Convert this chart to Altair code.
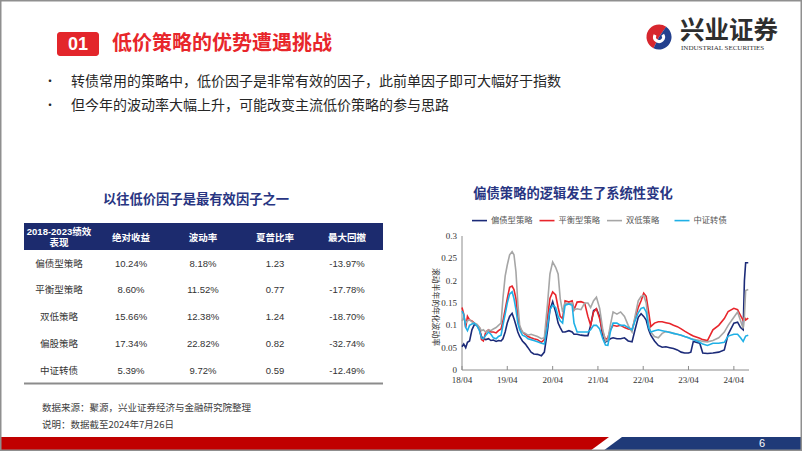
import altair as alt
import pandas as pd

W, H = 802, 451

# ---------------- data: line chart (rolling half-year annualised volatility)
dates = [
    "2018-04-01", "2018-04-15", "2018-05-01", "2018-05-15", "2018-06-01", "2018-06-20", "2018-07-10", "2018-08-01", "2018-08-20", "2018-09-05",
    "2018-09-20", "2018-10-10", "2018-11-01", "2018-11-20", "2018-12-10", "2019-01-01", "2019-01-20", "2019-02-10", "2019-02-25", "2019-03-15",
    "2019-04-01", "2019-04-20", "2019-05-10", "2019-05-25", "2019-06-10", "2019-06-25", "2019-07-10", "2019-08-01", "2019-08-25", "2019-09-15",
    "2019-10-10", "2019-11-01", "2019-12-01", "2020-01-01", "2020-01-25", "2020-02-20", "2020-03-10", "2020-04-01", "2020-04-25", "2020-05-15",
    "2020-06-01", "2020-06-20", "2020-07-10", "2020-08-10", "2020-09-05", "2020-09-20", "2020-10-15", "2020-11-15", "2020-12-15", "2021-01-10",
    "2021-02-01", "2021-02-25", "2021-03-20", "2021-04-15", "2021-05-10", "2021-06-01", "2021-06-20", "2021-07-10", "2021-08-01", "2021-09-01",
    "2021-10-01", "2021-11-01", "2021-12-01", "2022-01-01", "2022-01-25", "2022-02-20", "2022-03-15", "2022-04-05", "2022-04-25", "2022-05-15",
    "2022-06-01", "2022-07-01", "2022-08-01", "2022-09-01", "2022-10-01", "2022-11-01", "2022-12-01", "2023-01-01", "2023-02-01", "2023-03-01",
    "2023-04-01", "2023-04-20", "2023-05-10", "2023-07-01", "2023-07-25", "2023-09-01", "2023-10-15", "2023-12-01", "2024-01-15", "2024-02-15",
    "2024-04-01", "2024-05-01", "2024-05-25", "2024-06-15", "2024-06-25", "2024-07-05", "2024-07-26",
]
bond_tilt = [
    .052, .058, .050, .062, .065, .090, .102, .100, .090, .075,
    .070, .068, .070, .066, .067, .064, .066, .065, .070, .085,
    .105, .120, .127, .115, .100, .085, .075, .065, .058, .050,
    .040, .036, .035, .032, .040, .090, .135, .153, .130, .105,
    .095, .085, .085, .088, .085, .080, .080, .078, .077, .077,
    .100, .133, .137, .120, .075, .063, .066, .070, .072, .070,
    .070, .072, .065, .063, .090, .118, .126, .120, .112, .090,
    .078, .065, .055, .051, .052, .050, .048, .045, .040, .038,
    .038, .040, .064, .060, .038, .037, .038, .040, .045, .080,
    .105, .107, .095, .090, .200, .240, .240,
]
balanced = [
    .140, .125, .095, .120, .112, .110, .105, .100, .095, .068,
    .065, .085, .090, .085, .085, .083, .088, .092, .110, .135,
    .160, .185, .188, .180, .160, .120, .095, .085, .080, .075,
    .072, .070, .068, .062, .068, .120, .160, .175, .168, .140,
    .120, .115, .155, .152, .155, .135, .152, .153, .150, .120,
    .100, .130, .137, .115, .085, .068, .072, .090, .100, .098,
    .100, .095, .092, .090, .115, .140, .155, .172, .165, .130,
    .097, .105, .108, .108, .106, .104, .100, .097, .092, .087,
    .082, .079, .076, .071, .068, .066, .090, .100, .115, .131,
    .138, .135, .122, .111, .118, .112, .116,
]
double_low = [
    .110, .118, .105, .110, .112, .108, .105, .102, .095, .088,
    .090, .085, .090, .088, .092, .095, .100, .105, .160, .210,
    .235, .258, .265, .258, .220, .150, .100, .085, .082, .078,
    .080, .078, .075, .070, .072, .150, .215, .242, .230, .215,
    .160, .130, .150, .148, .150, .135, .137, .135, .150, .150,
    .140, .155, .163, .138, .090, .065, .068, .100, .130, .125,
    .130, .120, .100, .085, .120, .155, .165, .167, .150, .100,
    .085, .075, .072, .082, .086, .085, .082, .080, .078, .075,
    .072, .070, .069, .066, .064, .063, .066, .072, .085, .100,
    .118, .130, .110, .093, .120, .178, .180,
]
cb_index = [
    .132, .125, .095, .088, .100, .103, .105, .098, .088, .072,
    .070, .078, .085, .080, .072, .070, .075, .078, .100, .125,
    .150, .170, .175, .160, .135, .105, .090, .078, .075, .070,
    .068, .066, .063, .060, .058, .100, .135, .145, .140, .120,
    .110, .105, .145, .148, .145, .105, .085, .085, .085, .085,
    .090, .100, .100, .092, .070, .056, .055, .085, .105, .105,
    .100, .100, .095, .090, .110, .128, .138, .140, .130, .095,
    .085, .088, .090, .088, .086, .084, .082, .080, .078, .075,
    .072, .070, .068, .062, .058, .055, .060, .060, .062, .076,
    .080, .080, .072, .064, .070, .076, .078,
]
series_names = ["偏债型策略", "平衡型策略", "双低策略", "中证转债"]
series_colors = ["#1b2a78", "#e8252b", "#a6a6a6", "#1fb0e6"]
x_tick_dates = ["2018-04-01", "2019-04-01", "2020-04-01", "2021-04-01", "2022-04-01", "2023-04-01", "2024-04-01"]
x_domain = ["2018-04-01", "2024-08-01"]
y_tick_values = [0, 0.05, 0.1, 0.15, 0.2, 0.25, 0.3]

# ---------------- data: table
table_cols = ["2018-2023绩效表现", "绝对收益", "波动率", "夏普比率", "最大回撤"]
first_header_lines = ["2018-2023绩效", "表现"]
table_rows = ["偏债型策略", "平衡型策略", "双低策略", "偏股策略", "中证转债"]
abs_return = ["10.24%", "8.60%", "15.66%", "17.34%", "5.39%"]
volatility = ["8.18%", "11.52%", "12.38%", "22.82%", "9.72%"]
sharpe = ["1.23", "0.77", "1.24", "0.82", "0.59"]
max_drawdown = ["-13.97%", "-17.78%", "-18.70%", "-32.74%", "-12.49%"]

# ---------------- texts
main_title = "低价策略的优势遭遇挑战"
bullets = ["转债常用的策略中，低价因子是非常有效的因子，此前单因子即可大幅好于指数",
           "但今年的波动率大幅上升，可能改变主流低价策略的参与思路"]
table_title = "以往低价因子是最有效因子之一"
chart_title = "偏债策略的逻辑发生了系统性变化"
y_title = "滚动半年的年化波动率"
notes = ["数据来源：聚源，兴业证券经济与金融研究院整理", "说明：数据截至2024年7月26日"]

CJK = "Noto Sans CJK SC"
NUM = "Liberation Sans, Noto Sans CJK SC"
NAVY = "#1c2b6e"
TITLE_BLUE = "#283582"
RED = "#e3262b"
AXIS_GREY = "#8c8c8c"

# ---------------- frames
line_df = pd.concat([
    pd.DataFrame({"date": dates, "value": vals, "series": name})
    for name, vals in zip(series_names, [bond_tilt, balanced, double_low, cb_index])
], ignore_index=True)
xtick_df = pd.DataFrame({"date": x_tick_dates, "y0": 0.0, "y1": 0.009})
ytick_df = pd.DataFrame({"value": y_tick_values})
xdom_df = pd.DataFrame({"d0": [x_domain[0]], "d1": [x_domain[1]], "v0": [0.0], "v1": [0.3]})

body = []
for i, r in enumerate(table_rows):
    for c, t in zip(table_cols, [r, abs_return[i], volatility[i], sharpe[i], max_drawdown[i]]):
        body.append({"row": r, "col": c, "text": t})
body_df = pd.DataFrame(body)
head_df = pd.DataFrame({"col": table_cols[1:]})
head1_df = pd.DataFrame({"col": table_cols[0], "line": first_header_lines, "k": [0, 1]})
one = pd.DataFrame({"k": [0]})

x_scale = alt.Scale(domain=x_domain, range=[462, 749])
y_scale = alt.Scale(domain=[0, 0.3], range=[370, 236])
XT = lambda f: alt.X(f, type="temporal", scale=x_scale, axis=None)
YQ = lambda f: alt.Y(f, type="quantitative", scale=y_scale, axis=None)

lines = alt.Chart(line_df).mark_line(strokeWidth=1.6).encode(
    x=XT("date"), y=YQ("value"),
    color=alt.Color("series:N", sort=series_names,
                    scale=alt.Scale(domain=series_names, range=series_colors),
                    legend=alt.Legend(orient="none", legendX=471, legendY=212, direction="horizontal",
                                      columns=4, gridAlign="all", symbolType="stroke", symbolSize=225,
                                      symbolStrokeWidth=1.6, labelFont=CJK, labelFontSize=8.3,
                                      labelColor="#555555", labelOffset=3, columnPadding=2.5, title=None,
                                      padding=0)),
    order=alt.Order("date:T"),
)
x_domain_line = alt.Chart(xdom_df).mark_rule(color=AXIS_GREY, strokeWidth=1).encode(
    x=XT("d0"), x2="d1:T", y=YQ("v0"))
y_domain_line = alt.Chart(xdom_df).mark_rule(color=AXIS_GREY, strokeWidth=1).encode(
    x=XT("d0"), y=YQ("v0"), y2="v1:Q")
x_ticks = alt.Chart(xtick_df).mark_rule(color=AXIS_GREY, strokeWidth=1).encode(
    x=XT("date"), y=YQ("y0"), y2="y1:Q")
x_labels = alt.Chart(xtick_df).mark_text(font="Liberation Serif", fontSize=9, color="#333333",
                                         align="center", baseline="middle").encode(
    x=XT("date"), y=alt.value(380), text=alt.Text("date:T", format="%y/%m"))
y_labels = alt.Chart(ytick_df).mark_text(font="Liberation Serif", fontSize=9, color="#333333",
                                         align="right", baseline="middle").encode(
    x=alt.value(457), y=YQ("value"), text=alt.Text("value:Q", format="~g"))
line_chart = alt.layer(x_domain_line, y_domain_line, x_ticks, x_labels, y_labels, lines)

y_title_txt = alt.Chart(one).mark_text(font=CJK, fontSize=7.8, color="#333333", angle=90,
                                       align="center", baseline="middle", text=y_title).encode(
    x=alt.value(435), y=alt.value(307))
chart_title_txt = alt.Chart(one).mark_text(font=CJK, fontSize=13.3, fontWeight="bold", color=TITLE_BLUE,
                                           align="center", baseline="middle", text=chart_title).encode(
    x=alt.value(573), y=alt.value(194))

# ---------------- table
table_title_txt = alt.Chart(one).mark_text(font=CJK, fontSize=13.3, fontWeight="bold", color=TITLE_BLUE,
                                           align="center", baseline="middle", text=table_title).encode(
    x=alt.value(196), y=alt.value(200))
head_rect = alt.Chart(one).mark_rect(color=NAVY).encode(
    x=alt.value(24), x2=alt.value(383), y=alt.value(223), y2=alt.value(250))
col_scale = alt.Scale(type="point", domain=table_cols, range=[59, 347], padding=0)
head_txt = alt.Chart(head_df).mark_text(font=NUM, fontSize=9.5, fontWeight="bold", color="white",
                                        align="center", baseline="middle").encode(
    x=alt.X("col:N", scale=col_scale, axis=None), y=alt.value(237.5), text="col:N")
head1_txt = alt.Chart(head1_df).mark_text(font=NUM, fontSize=9.5, fontWeight="bold", color="white",
                                          align="center", baseline="middle").encode(
    x=alt.X("col:N", scale=col_scale, axis=None),
    y=alt.Y("k:O", scale=alt.Scale(type="point", domain=[0, 1], range=[232, 243], padding=0), axis=None),
    text="line:N")
body_txt = alt.Chart(body_df).mark_text(font=NUM, fontSize=9.5, color="#333333", align="center",
                                        baseline="middle").encode(
    x=alt.X("col:N", scale=col_scale, axis=None),
    y=alt.Y("row:N", scale=alt.Scale(type="point", domain=table_rows, range=[263.5, 370.5], padding=0),
            axis=None),
    text="text:N")
table_rule = alt.Chart(one).mark_rule(color="#8c8c8c", strokeWidth=2).encode(
    x=alt.value(24), x2=alt.value(383), y=alt.value(383.5))

# ---------------- header
num_box = alt.Chart(one).mark_rect(color=RED, cornerRadius=3).encode(
    x=alt.value(57), x2=alt.value(99), y=alt.value(32), y2=alt.value(56))
num_txt = alt.Chart(one).mark_text(font="Liberation Sans", fontSize=18, fontWeight="bold", color="white",
                                   align="center", baseline="middle", text="01").encode(
    x=alt.value(78), y=alt.value(44.5))
title_txt = alt.Chart(one).mark_text(font=CJK, fontSize=20, fontWeight="bold", color="#e8262b",
                                     align="left", baseline="middle", text=main_title).encode(
    x=alt.value(112), y=alt.value(43.5))
bullet_layers = []
for i, b in enumerate(bullets):
    yy = 82 + 23.5 * i
    bullet_layers.append(alt.Chart(one).mark_text(font=CJK, fontSize=12, color="#262626", align="center",
                                                  baseline="middle", text="•").encode(
        x=alt.value(50), y=alt.value(yy)))
    bullet_layers.append(alt.Chart(one).mark_text(font=CJK, fontSize=14, color="#262626", align="left",
                                                  baseline="middle", text=b).encode(
        x=alt.value(71), y=alt.value(yy)))

# logo
logo_red = alt.Chart(one).mark_arc(color="#d7262e", radius=12.5, radius2=0, theta=3.6, theta2=6.9).encode(
    x=alt.value(659), y=alt.value(37))
logo_blue = alt.Chart(one).mark_arc(color="#23408e", radius=12.5, radius2=0, theta=0.6, theta2=3.6).encode(
    x=alt.value(659), y=alt.value(37))
logo_white = alt.Chart(one).mark_arc(color="white", radius=6, radius2=3, theta=1.0, theta2=5.2).encode(
    x=alt.value(659), y=alt.value(37))
logo_cn = alt.Chart(one).mark_text(font=CJK, fontSize=24.5, fontWeight="bold", color="#2e2e2e", align="left",
                                   baseline="middle", text="兴业证券").encode(
    x=alt.value(680), y=alt.value(31.5))
logo_en = alt.Chart(one).mark_text(font="Liberation Serif", fontSize=7, color="#333333", align="left",
                                   baseline="middle", text="INDUSTRIAL SECURITIES").encode(
    x=alt.value(681), y=alt.value(48))

# footnotes
note_layers = [
    alt.Chart(one).mark_text(font=CJK, fontSize=9.5, color="#404040", align="left", baseline="middle",
                             text=n).encode(x=alt.value(42), y=alt.value(408 + 17 * i))
    for i, n in enumerate(notes)
]

# bottom band + border
band_red = alt.Chart(one).mark_point(shape="M0,437 L609,437 L590,451 L0,451 Z", size=4, filled=True,
                                     color="#c00000", opacity=1, strokeWidth=0).encode(
    x=alt.value(0), y=alt.value(0))
band_blue = alt.Chart(one).mark_point(shape="M622,437 L802,437 L802,451 L603,451 Z", size=4, filled=True,
                                      color="#1f3a78", opacity=1, strokeWidth=0).encode(
    x=alt.value(0), y=alt.value(0))
page_no = alt.Chart(one).mark_text(font="Liberation Sans", fontSize=11, color="white", align="center",
                                   baseline="middle", text="6").encode(x=alt.value(762), y=alt.value(444))
border = alt.Chart(one).mark_rect(fillOpacity=0, stroke="#8f8f8f", strokeWidth=1.5).encode(
    x=alt.value(0.75), x2=alt.value(801.25), y=alt.value(0.75), y2=alt.value(450.25))

chart = alt.layer(
    line_chart, y_title_txt, chart_title_txt,
    table_title_txt, head_rect, head_txt, head1_txt, body_txt, table_rule,
    num_box, num_txt, title_txt, *bullet_layers,
    logo_red, logo_blue, logo_white, logo_cn, logo_en,
    *note_layers, band_red, band_blue, page_no, border,
).resolve_scale(x="independent", y="independent").properties(
    width=W, height=H, padding=0, autosize=alt.AutoSizeParams(type="none"), background="white"
).configure_view(strokeWidth=0)

chart.save("out.html", embed_options={"renderer": "svg", "actions": False})
